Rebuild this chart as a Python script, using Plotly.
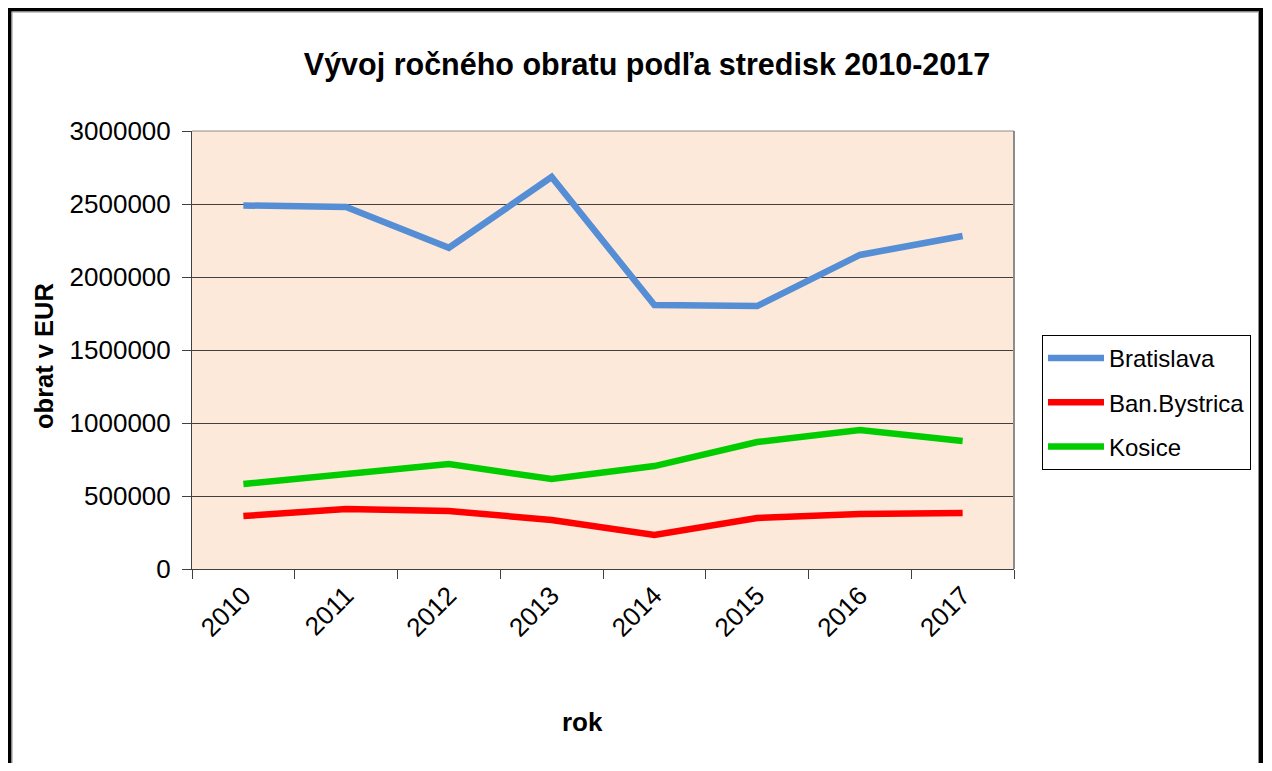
import plotly.graph_objects as go

years = ["2010", "2011", "2012", "2013", "2014", "2015", "2016", "2017"]
bratislava = [2490000, 2480000, 2200000, 2685000, 1808000, 1801000, 2151000, 2281000]
ban_bystrica = [363000, 411000, 397000, 336000, 233000, 349000, 377000, 384000]
kosice = [582000, 651000, 719000, 616000, 705000, 870000, 952000, 877000]

series_names = ["Bratislava", "Ban.Bystrica", "Kosice"]
series_values = [bratislava, ban_bystrica, kosice]
series_colors = ["#558ED5", "#FF0000", "#00CC00"]

FONT = "Liberation Sans, Arial, sans-serif"

fig = go.Figure()
for i, (name, vals, col) in enumerate(zip(series_names, series_values, series_colors)):
    fig.add_trace(go.Scatter(
        x=years, y=vals, name=name, mode="lines",
        line=dict(color=col, width=6.5),
        legendgroup=f"g{i}",
    ))

OFF = 8  # page body margin
FW, FH = 1272 - OFF, 771 - 2 * OFF
L, R, T, B = 192 - OFF, 1014 - OFF, 131 - OFF, 569 - OFF
W, H = R - L, B - T

def px(x):
    return (x - OFF - L) / W

def py(y):
    return (B - (y - OFF)) / H

fig.update_layout(
    width=FW, height=FH,
    margin=dict(l=L, r=FW - R, t=T, b=FH - B, pad=0),
    paper_bgcolor="white",
    plot_bgcolor="#FDE9D9",
    font=dict(family=FONT, color="black", size=25),
    title=dict(
        text="<b>Vývoj ročného obratu podľa stredisk 2010-2017</b>",
        x=(647 - OFF) / FW, xanchor="center",
        y=1 - (64 - OFF) / FH, yanchor="middle",
        font=dict(size=30.5, family=FONT, color="black"),
    ),
    showlegend=True,
    legend=dict(
        x=px(1042), xanchor="left",
        y=py(335), yanchor="top",
        bgcolor="white", bordercolor="black", borderwidth=1,
        font=dict(size=24, family=FONT, color="black"),
        traceorder="grouped", tracegroupgap=10,
        itemwidth=56,
        entrywidth=205,
    ),
    xaxis=dict(
        type="category",
        tickson="boundaries",
        ticks="outside", ticklen=9, tickcolor="#404040", tickwidth=1,
        showline=True, linecolor="#404040", linewidth=1,
        showgrid=False,
        tickangle=-45,
        tickfont=dict(size=26, family=FONT),
        range=[-0.5, 7.5],
        zeroline=False,
    ),
    yaxis=dict(
        range=[0, 3000000],
        tickvals=[0, 500000, 1000000, 1500000, 2000000, 2500000, 3000000],
        ticktext=["0", "500000", "1000000", "1500000", "2000000", "2500000", "3000000"],
        ticks="outside", ticklen=9, tickcolor="#404040", tickwidth=1,
        showline=True, linecolor="#404040", linewidth=1,
        showgrid=True, gridcolor="#404040", gridwidth=1,
        zeroline=False,
        ticklabelstandoff=6,
        tickfont=dict(size=26, family=FONT),
    ),
)

# axis titles
fig.add_annotation(
    text="<b>obrat v EUR</b>", xref="paper", yref="paper",
    x=px(44), y=py(356), textangle=-90, showarrow=False,
    xanchor="center", yanchor="middle",
    font=dict(size=25.5, family=FONT, color="black"),
)
fig.add_annotation(
    text="<b>rok</b>", xref="paper", yref="paper",
    x=px(582), y=py(722), showarrow=False,
    xanchor="center", yanchor="middle",
    font=dict(size=26, family=FONT, color="black"),
)

# plot area top/right border (gray)
fig.add_shape(type="line", xref="paper", yref="paper", x0=0, x1=1, y0=1, y1=1,
              line=dict(color="#8C8C8C", width=1))
fig.add_shape(type="line", xref="paper", yref="paper", x0=1, x1=1, y0=0, y1=1,
              line=dict(color="#8C8C8C", width=2))

# outer chart frame (black with gray inner edge)
fig.add_shape(type="rect", xref="paper", yref="paper",
              x0=px(9.5), x1=px(1261), y0=py(9.5), y1=py(800),
              line=dict(color="black", width=4), layer="above")
fig.add_shape(type="rect", xref="paper", yref="paper",
              x0=px(12), x1=px(1258.5), y0=py(12), y1=py(800),
              line=dict(color="#909090", width=1), layer="above")

fig.write_html("out.html")
